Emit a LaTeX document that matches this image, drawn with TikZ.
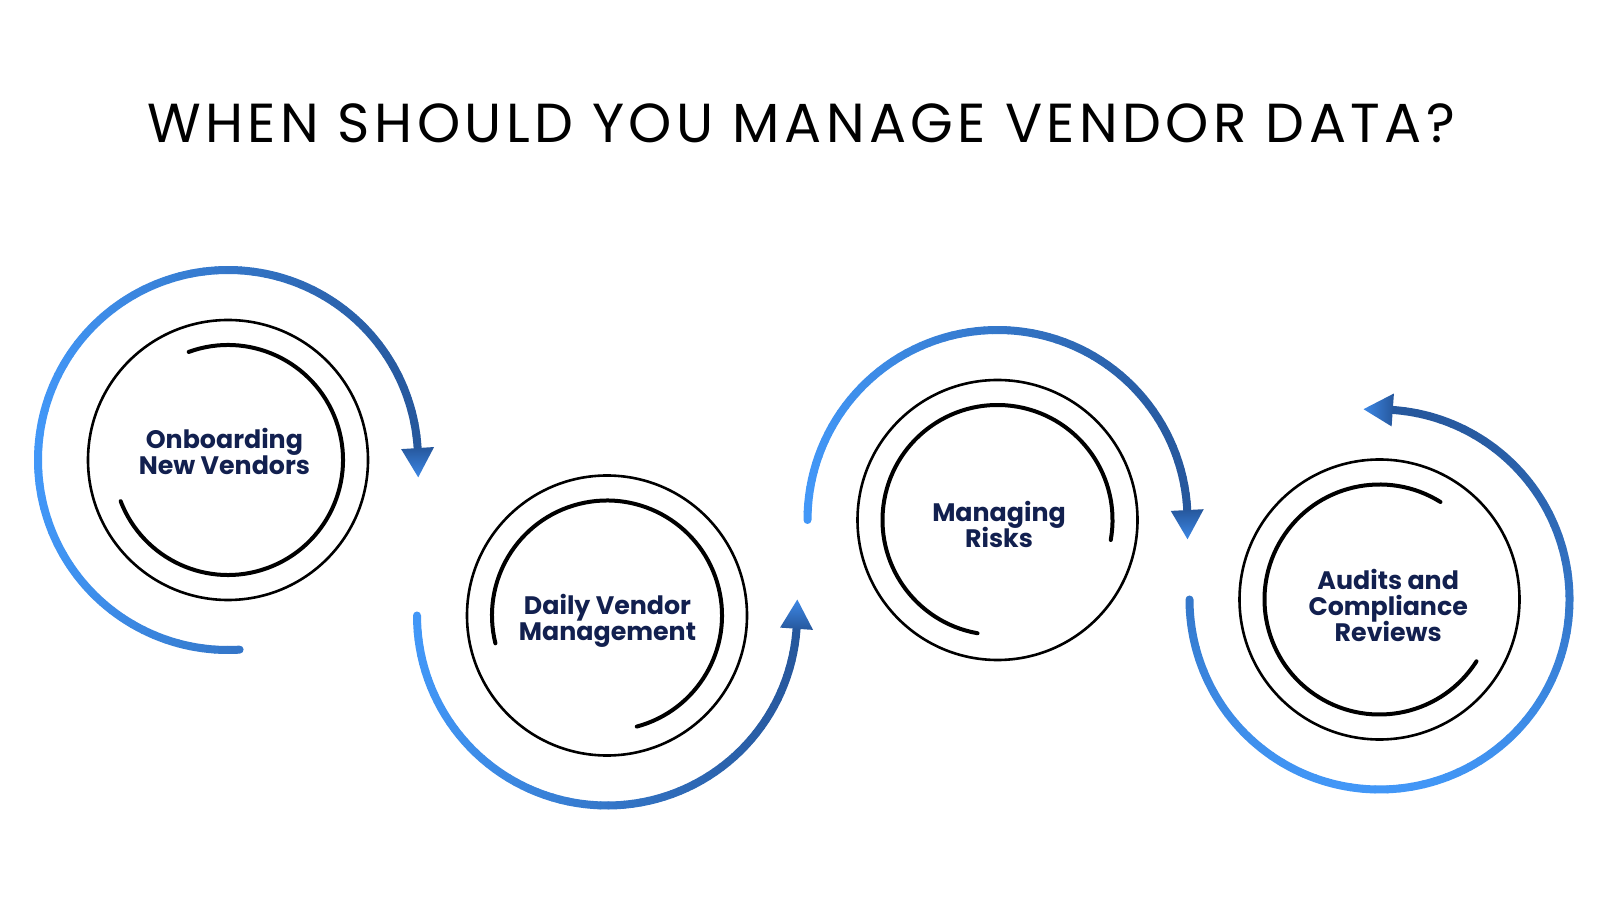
\documentclass[tikz,border=0pt]{standalone}
\usepackage{fontspec}
\setmainfont{Poppins}
\newfontfamily\titlefont[LetterSpace=8]{Poppins}
\usepackage{tikz}
\lineskiplimit=-30pt

\definecolor{arcLight}{HTML}{4297F7}
\definecolor{arcDark}{HTML}{26579C}
\definecolor{tipLight}{HTML}{3D88E6}
\definecolor{navy}{HTML}{12204F}

\begin{document}
\begin{tikzpicture}[x=1pt,y=1pt,
stepcircle/.style={circle,draw=black,line width=2.6pt,minimum size=280pt,inner sep=0pt},
steptext/.style={align=center,text=navy,inner sep=0pt,font=\bfseries\fontsize{25.3}{26}\selectfont},
innerarc/.style={line width=4pt,line cap=round},
ringseg/.style={line width=8pt,line cap=round},
tiptri/.style={top color=arcDark,bottom color=tipLight,shading angle=#1}]
\fill[white] (0,0) rectangle (1600,900);
\useasboundingbox (0,0) rectangle (1600,900);
\node[anchor=base,font=\titlefont\fontsize{55}{55}\selectfont] (title) at (801,757) {WHEN SHOULD YOU MANAGE VENDOR DATA?};
\node[stepcircle] (c1) at (228,440) {};
\node[stepcircle] (c2) at (607,284.5) {};
\node[stepcircle] (c3) at (997.5,380) {};
\node[stepcircle] (c4) at (1379.5,300.5) {};
\node[steptext] (t1) at ([shift={(-3.6,8.7)}]c1.center) {Onboarding\\New Vendors};
\node[steptext] (t2) at ([shift={(0.5,-5.1)}]c2.center) {Daily Vendor\\Management};
\node[steptext] (t3) at ([shift={(1.5,-4.1)}]c3.center) {Managing\\Risks};
\node[steptext] (t4) at ([shift={(8.7,-6.1)}]c4.center) {Audits and\\Compliance\\Reviews};
\foreach \n/\s/\e in {c1/110/-159,c2/194/-75,c3/-10/260,c4/58/327.5} {
   \draw[innerarc] ([shift={(\s:115)}]\n.center) arc[start angle=\s,end angle=\e,radius=115];
}
\foreach \n/\s/\e/\g in {c1/-86.5/-356.4/0,c2/180/356/0,c3/180/3/0,c4/180/446/90} {
   \begin{scope}[shift={(\n.center)}]
   \foreach \i in {0,...,71} {
      \pgfmathsetmacro\sa{(\s)+((\e)-(\s))*(\i/72)}
      \pgfmathsetmacro\sb{(\s)+((\e)-(\s))*((\i+1)/72)}
      \pgfmathtruncatemacro\mixp{50*(1+cos((\sa+\sb)/2-\g))}
      \draw[ringseg,draw=arcDark!\mixp!arcLight] (\sa:190) arc[start angle=\sa,end angle=\sb,radius=190];
   }
   \end{scope}
}
\foreach \n/\e/\d/\r in {c1/-356.4/-1/0,c2/356/1/180,c3/3/-1/0,c4/446/1/270} {
   \begin{scope}[shift={(\n.center)}]
   \shade[tiptri=\r] (\e:173.5) -- (\e:206.5) -- (\e+\d*8.8:191) -- cycle;
   \end{scope}
}
\end{tikzpicture}
\end{document}
